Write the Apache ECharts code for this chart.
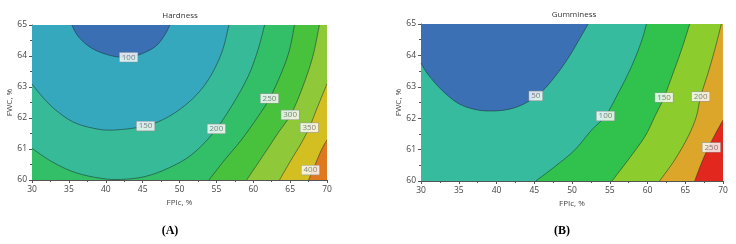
<!DOCTYPE html>
<html>
<head>
<meta charset="utf-8">
<title>Hardness / Gumminess contour plots</title>
<script src="https://cdn.jsdelivr.net/npm/echarts@6.0.0/dist/echarts.min.js"></script>
<style>
  html, body { margin: 0; padding: 0; background: #fff; }
  #main { width: 736px; height: 244px; }
</style>
</head>
<body>
<div id="main"></div>
<script>
  // axis ranges (FPIc on x, FWC on y)
  const fpicRange = [30, 70];
  const fwcRange = [60, 65];

  // Hardness: contour levels and the lines, [FPIc, FWC]
  const hardnessLevels = [100, 150, 200, 250, 300, 350, 400];
  const hardness100 = [[35.4, 65], [36.3, 64.62], [38.1, 64.25], [40.4, 64.03], [42.4, 63.96], [44.4, 64.03], [46.7, 64.3], [48.0, 64.68], [48.7, 65]];
  const hardness150 = [[30, 63.1], [31.2, 62.74], [33.0, 62.3], [35.5, 61.88], [38.3, 61.67], [41.0, 61.61], [45.3, 61.74], [48.5, 62.04], [51.6, 62.58], [53.9, 63.23], [55.7, 64.09], [56.7, 65]];
  const hardness200 = [[30, 61.02], [32.7, 60.59], [35.86, 60.24], [39.46, 60.05], [42.16, 60.02], [45.3, 60.11], [48.47, 60.38], [51.62, 60.81], [54.55, 61.51], [57.03, 62.37], [59.28, 63.33], [60.63, 64.19], [61.54, 65]];
  const hardness250 = [[54.0, 60], [56.13, 60.65], [58.38, 61.29], [60.63, 62.04], [62.21, 62.63], [63.79, 63.44], [64.91, 64.19], [65.59, 65]];
  const hardness300 = [[59.1, 60], [61.54, 60.86], [63.34, 61.51], [65.14, 62.13], [66.72, 63.01], [68.07, 63.98], [68.97, 65]];
  const hardness350 = [[63.56, 60], [65.14, 60.65], [66.49, 61.18], [67.62, 61.7], [68.74, 62.37], [70, 63.1]];
  const hardness400 = [[67.5, 60], [68.4, 60.5], [69.2, 60.95], [70, 61.3]];
  const hardnessLabelPos = [[43.1, 63.96], [45.4, 61.74], [55.0, 61.65], [62.2, 62.63], [65.0, 62.1], [67.6, 61.69], [67.75, 60.32]];

  // Gumminess
  const gumminessLevels = [50, 100, 150, 200, 250];
  const gumminess50 = [[30, 63.75], [30.97, 63.38], [32.73, 62.9], [34.94, 62.47], [37.14, 62.28], [39.13, 62.23], [41.55, 62.28], [43.76, 62.47], [45.96, 62.84], [47.73, 63.32], [49.49, 63.91], [51.04, 64.54], [52.14, 65]];
  const gumminess100 = [[45.2, 60], [47.73, 60.46], [50.37, 60.99], [52.58, 61.62], [54.43, 62.07], [56.11, 62.79], [57.87, 63.64], [59.19, 64.44], [59.86, 65]];
  const gumminess150 = [[55.3, 60], [57.43, 60.67], [59.64, 61.41], [60.96, 62.05], [62.19, 62.66], [63.38, 63.43], [64.49, 64.17], [65.59, 65]];
  const gumminess200 = [[61.6, 60], [63.6, 60.67], [65.37, 61.41], [66.47, 62.05], [67.04, 62.69], [68.01, 63.43], [68.9, 64.17], [69.78, 65]];
  const gumminess250 = [[66.25, 60], [67.13, 60.56], [68.01, 61.04], [68.9, 61.46], [70, 61.94]];
  const gumminessLabelPos = [[45.2, 62.71], [54.43, 62.07], [62.19, 62.66], [67.04, 62.69], [68.46, 61.07]];

  // band colours, lowest band first
  const hardnessColors = ['#3b6fb3', '#35a8bd', '#36ba97', '#33bf68', '#48c23c', '#8fc838', '#d4bf22', '#df781e'];
  const gumminessColors = ['#3b71b4', '#37bb9f', '#30c24c', '#8ccc2c', '#dca62a', '#e2281e'];

  const FONT = "'Open Sans', 'DejaVu Sans', sans-serif";
  const AXIS_COLOR = '#555';

  // perimeter position, counter-clockwise: right edge up, top leftwards, left down, bottom rightwards
  function perimeterT(p) {
    const [x0, x1] = fpicRange, [y0, y1] = fwcRange, e = 1e-6;
    if (p[0] >= x1 - e) return (p[1] - y0) / (y1 - y0);
    if (p[1] >= y1 - e) return 1 + (x1 - p[0]) / (x1 - x0);
    if (p[0] <= x0 + e) return 2 + (y1 - p[1]) / (y1 - y0);
    return 3 + (p[0] - x0) / (x1 - x0);
  }

  // corners needed to close the region that lies left of the contour
  function closingCorners(line) {
    const [x0, x1] = fpicRange, [y0, y1] = fwcRange;
    const corners = [[x1, y1], [x0, y1], [x0, y0], [x1, y0]];
    const tEnd = perimeterT(line[line.length - 1]);
    let tStart = perimeterT(line[0]);
    if (tStart <= tEnd) tStart += 4;
    const out = [];
    for (let c = 0; c < 8; c++) {
      const t = c + 1;
      if (t > tEnd && t < tStart) out.push(corners[c % 4]);
    }
    return out;
  }

  // catmull-rom through pixel points as bezier path data
  function smoothPath(px) {
    let d = 'M' + px[0][0] + ' ' + px[0][1];
    for (let i = 0; i < px.length - 1; i++) {
      const p0 = px[Math.max(i - 1, 0)], p1 = px[i], p2 = px[i + 1], p3 = px[Math.min(i + 2, px.length - 1)];
      const c1 = [p1[0] + (p2[0] - p0[0]) / 6, p1[1] + (p2[1] - p0[1]) / 6];
      const c2 = [p2[0] - (p3[0] - p1[0]) / 6, p2[1] - (p3[1] - p1[1]) / 6];
      d += ' C' + c1[0] + ' ' + c1[1] + ' ' + c2[0] + ' ' + c2[1] + ' ' + p2[0] + ' ' + p2[1];
    }
    return d;
  }

  function contourSeries(idx, levels, contours, colors) {
    // paint the whole area with the top band, then the regions below each level, highest first
    const order = [levels.length];
    for (let i = levels.length - 1; i >= 0; i--) order.push(i);
    return {
      type: 'custom',
      xAxisIndex: idx,
      yAxisIndex: idx,
      silent: true,
      z: 2,
      data: order.map(k => [fpicRange[0], fwcRange[0], k]),
      renderItem: function (params, api) {
        const k = api.value(2);
        if (k === levels.length) {
          const rect = [[fpicRange[0], fwcRange[0]], [fpicRange[1], fwcRange[0]], [fpicRange[1], fwcRange[1]], [fpicRange[0], fwcRange[1]]];
          return { type: 'polygon', shape: { points: rect.map(p => api.coord(p)) }, style: { fill: colors[k] } };
        }
        const line = contours[k].map(p => api.coord(p));
        let fillPath = smoothPath(line);
        closingCorners(contours[k]).forEach(c => {
          const q = api.coord(c);
          fillPath += ' L' + q[0] + ' ' + q[1];
        });
        fillPath += ' Z';
        return {
          type: 'group',
          children: [
            { type: 'path', shape: { pathData: fillPath }, style: { fill: colors[k] } },
            { type: 'path', shape: { pathData: smoothPath(line) }, style: { fill: null, stroke: 'rgba(25,45,45,0.75)', lineWidth: 0.7 } }
          ]
        };
      }
    };
  }

  function labelSeries(idx, levels, pos) {
    return {
      type: 'scatter',
      xAxisIndex: idx,
      yAxisIndex: idx,
      silent: true,
      z: 5,
      symbolSize: 1,
      itemStyle: { color: 'rgba(0,0,0,0)' },
      data: pos.map((p, i) => [p[0], p[1], levels[i]]),
      label: {
        show: true,
        position: 'inside',
        formatter: p => String(p.value[2]),
        color: '#666',
        fontSize: 8,
        fontFamily: FONT,
        backgroundColor: '#fff',
        borderColor: '#999',
        borderWidth: 0.6,
        padding: [1, 2, 0, 2]
      }
    };
  }

  function xAxisFor(idx) {
    return {
      gridIndex: idx, type: 'value', min: fpicRange[0], max: fpicRange[1], interval: 5,
      name: 'FPIc, %', nameLocation: 'middle', nameGap: 17,
      nameTextStyle: { color: '#444', fontSize: 8, fontFamily: FONT },
      axisLine: { show: true, onZero: false, lineStyle: { color: AXIS_COLOR, width: 1 } },
      axisTick: { show: true, length: 3, lineStyle: { color: AXIS_COLOR } },
      minorTick: { show: true, splitNumber: 2, length: 2, lineStyle: { color: AXIS_COLOR } },
      axisLabel: { color: '#444', fontSize: 8.5, fontFamily: FONT, margin: 5 },
      splitLine: { show: false }
    };
  }

  function yAxisFor(idx) {
    return {
      gridIndex: idx, type: 'value', min: fwcRange[0], max: fwcRange[1], interval: 1,
      name: 'FWC, %', nameLocation: 'middle', nameGap: 14,
      nameTextStyle: { color: '#444', fontSize: 8, fontFamily: FONT },
      axisLine: { show: true, onZero: false, lineStyle: { color: AXIS_COLOR, width: 1 } },
      axisTick: { show: true, length: 3, lineStyle: { color: AXIS_COLOR } },
      minorTick: { show: true, splitNumber: 2, length: 2, lineStyle: { color: AXIS_COLOR } },
      axisLabel: { color: '#444', fontSize: 8.5, fontFamily: FONT, margin: 5 },
      splitLine: { show: false }
    };
  }

  const hardnessContours = [hardness100, hardness150, hardness200, hardness250, hardness300, hardness350, hardness400];
  const gumminessContours = [gumminess50, gumminess100, gumminess150, gumminess200, gumminess250];

  const chart = echarts.init(document.getElementById('main'), null, { renderer: 'canvas' });
  chart.setOption({
    animation: false,
    backgroundColor: '#fff',
    grid: [
      { left: 32, top: 25, width: 295, height: 155 },
      { left: 421, top: 24, width: 302, height: 157 }
    ],
    xAxis: [xAxisFor(0), xAxisFor(1)],
    yAxis: [yAxisFor(0), yAxisFor(1)],
    graphic: [
      { type: 'text', x: 180, y: 16, style: { text: 'Hardness', align: 'center', verticalAlign: 'middle', fill: '#333', fontSize: 8, fontFamily: FONT } },
      { type: 'text', x: 574, y: 15, style: { text: 'Gumminess', align: 'center', verticalAlign: 'middle', fill: '#333', fontSize: 8, fontFamily: FONT } },
      { type: 'text', x: 170, y: 231, style: { text: '(A)', align: 'center', verticalAlign: 'middle', fill: '#000', fontSize: 12, fontWeight: 'bold', fontFamily: "'Liberation Serif', serif" } },
      { type: 'text', x: 562, y: 231, style: { text: '(B)', align: 'center', verticalAlign: 'middle', fill: '#000', fontSize: 12, fontWeight: 'bold', fontFamily: "'Liberation Serif', serif" } }
    ],
    series: [
      contourSeries(0, hardnessLevels, hardnessContours, hardnessColors),
      labelSeries(0, hardnessLevels, hardnessLabelPos),
      contourSeries(1, gumminessLevels, gumminessContours, gumminessColors),
      labelSeries(1, gumminessLevels, gumminessLabelPos)
    ]
  });
</script>
</body>
</html>
